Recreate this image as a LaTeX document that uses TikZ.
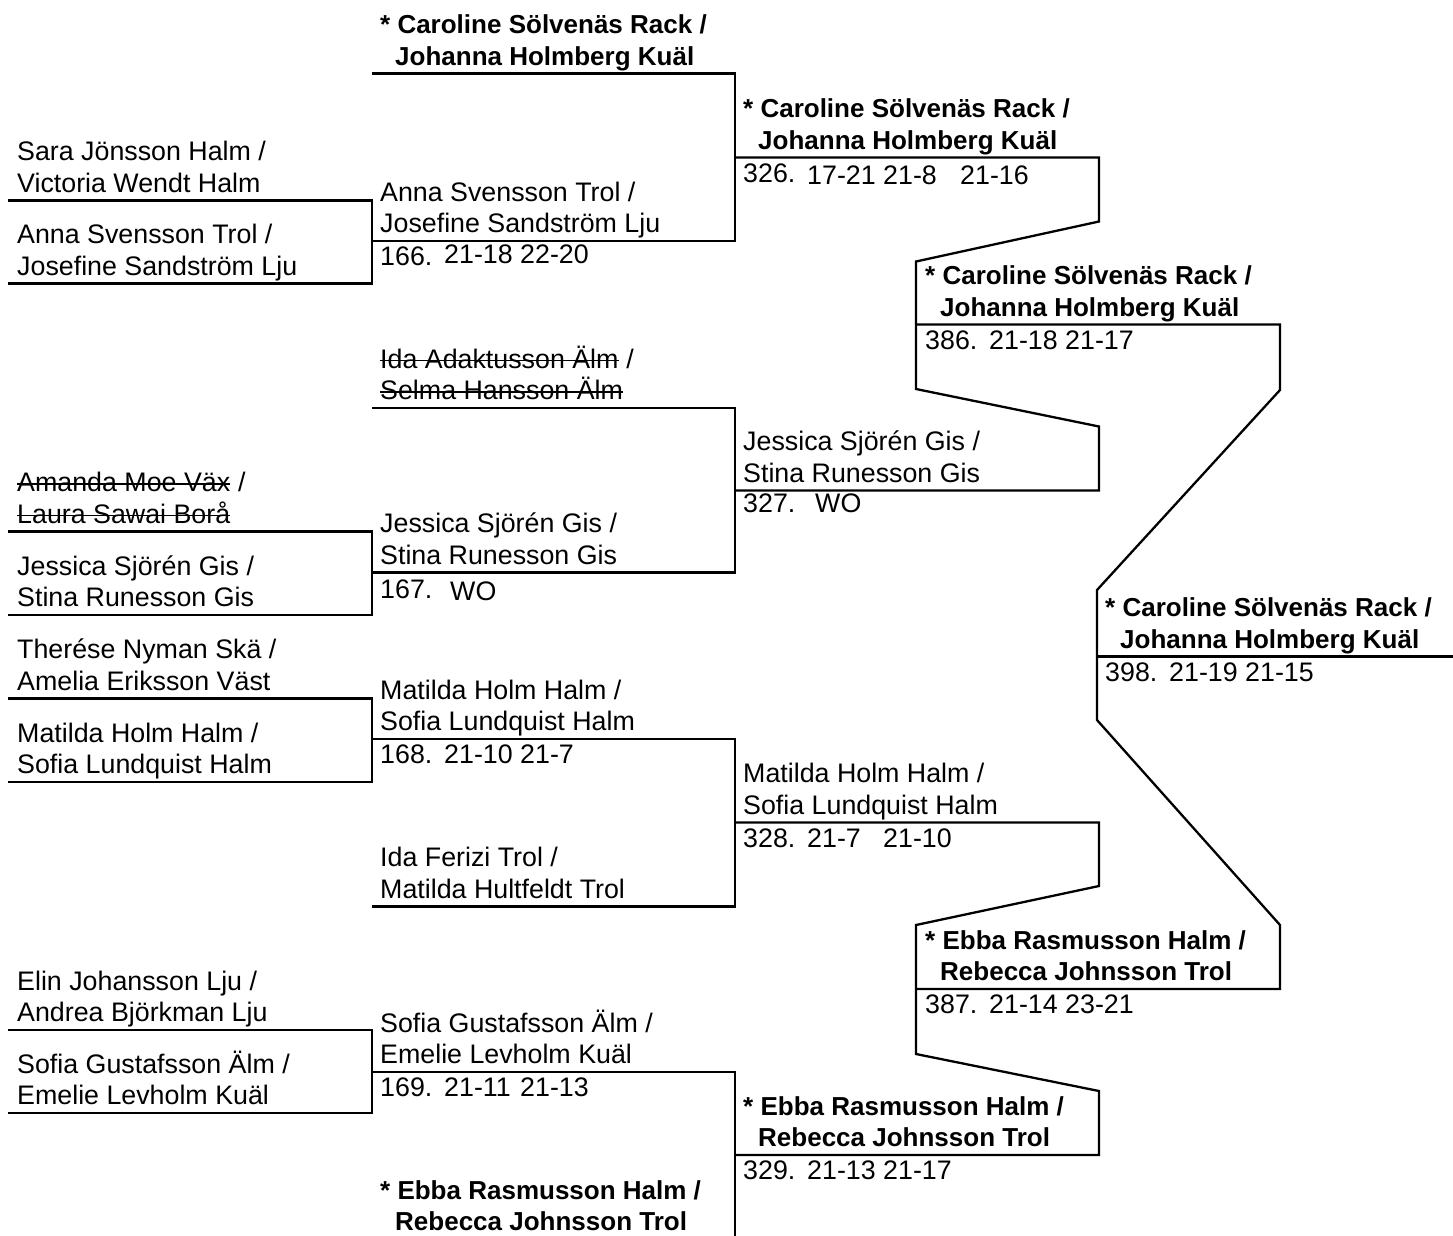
\documentclass[tikz,border=0pt]{standalone}
\usepackage{fontspec}
\setmainfont{Liberation Sans}
\tikzset{
  br/.style={line width=2.3pt, line join=miter},
  txt/.style={inner sep=0pt, anchor=base west, font=\fontsize{26.8}{31}\selectfont},
  btxt/.style={txt, font=\fontsize{26}{31}\selectfont\bfseries},
  strikeline/.style={line width=1.8pt}
}
% name, x, line y, first line, second line
\newcommand\pairtxt[5]{%
  \node[txt] (#1a) at (#2,#3-40) {#4};
  \node[txt] (#1b) at (#2,#3-8.5) {#5};}
\newcommand\boldpair[5]{%
  \node[btxt] (#1a) at (#2,#3-40) {* #4};
  \node[btxt] (#1b) at (#2+15,#3-8.5) {#5};}
% name, x, line y, number, game 1, game 2, score offset
\newcommand\scoreline[7]{%
  \node[txt] (#1n) at (#2,#3+24.5) {#4};
  \node[txt] (#1a) at (#2+64,#3+#7) {#5};
  \node[txt] (#1b) at (#2+140,#3+#7) {#6};}
\begin{document}
\begin{tikzpicture}[x=1pt,y=-1pt]
\useasboundingbox[fill=white] (0,0) rectangle (1453,1235);

% ---------- brackets ----------
% round 1
\draw[br] (8,200.5) -- (372,200.5) -- (372,283.5) -- (8,283.5);
\draw[br] (8,531.5) -- (372,531.5) -- (372,615) -- (8,615);
\draw[br] (8,698.5) -- (372,698.5) -- (372,782) -- (8,782);
\draw[br] (8,1030) -- (372,1030) -- (372,1113) -- (8,1113);
% round 2
\draw[br] (372,73.5) -- (735,73.5) -- (735,241) -- (372,241);
\draw[br] (372,408) -- (735,408) -- (735,572.5) -- (372,572.5);
\draw[br] (372,739) -- (735,739) -- (735,906.5) -- (372,906.5);
\draw[br] (372,1072) -- (735,1072) -- (735,1240) -- (372,1240);
% round 3 (with jogs)
\draw[br] (735,157.5) -- (1099,157.5) -- (1099,221.5) -- (916,261.5) -- (916,389) -- (1099,426.5) -- (1099,490.5) -- (735,490.5);
\draw[br] (735,822.5) -- (1099,822.5) -- (1099,886) -- (916,925) -- (916,1054) -- (1099,1091) -- (1099,1155) -- (735,1155);
% semifinals and final
\draw[br] (916,324.5) -- (1280,324.5) -- (1280,390) -- (1097,590) -- (1097,720) -- (1280,925) -- (1280,989) -- (916,989);
\draw[br] (1097,656.5) -- (1456,656.5);

% ---------- round 1 entries ----------
\pairtxt{r1a}{17}{200.5}{Sara Jönsson Halm /}{Victoria Wendt Halm}
\pairtxt{r1b}{17}{283.5}{Anna Svensson Trol /}{Josefine Sandström Lju}
\node[txt] (r1ca) at (17,491.5) {Amanda Moe Väx};
\node[txt] (r1cs) at (r1ca.base east) {~/};
\node[txt] (r1cb) at (17,523) {Laura Sawai Borå};
\draw[strikeline] ([yshift=7.5pt]r1ca.base west) -- ([yshift=7.5pt]r1ca.base east);
\draw[strikeline] ([yshift=7.5pt]r1cb.base west) -- ([yshift=7.5pt]r1cb.base east);
\pairtxt{r1d}{17}{615}{Jessica Sjörén Gis /}{Stina Runesson Gis}
\pairtxt{r1e}{17}{698.5}{Therése Nyman Skä /}{Amelia Eriksson Väst}
\pairtxt{r1f}{17}{782}{Matilda Holm Halm /}{Sofia Lundquist Halm}
\pairtxt{r1g}{17}{1030}{Elin Johansson Lju /}{Andrea Björkman Lju}
\pairtxt{r1h}{17}{1113}{Sofia Gustafsson Älm /}{Emelie Levholm Kuäl}

% ---------- round 2 entries ----------
\boldpair{r2a}{380}{73.5}{Caroline Sölvenäs Rack /}{Johanna Holmberg Kuäl}
\pairtxt{r2b}{380}{241}{Anna Svensson Trol /}{Josefine Sandström Lju}
\scoreline{m166}{380}{241}{166.}{21-18}{22-20}{22}
\node[txt] (r2ca) at (380,368) {Ida Adaktusson Älm};
\node[txt] (r2cs) at (r2ca.base east) {~/};
\node[txt] (r2cb) at (380,399.5) {Selma Hansson Älm};
\draw[strikeline] ([yshift=7.5pt]r2ca.base west) -- ([yshift=7.5pt]r2ca.base east);
\draw[strikeline] ([yshift=7.5pt]r2cb.base west) -- ([yshift=7.5pt]r2cb.base east);
\pairtxt{r2d}{380}{572.5}{Jessica Sjörén Gis /}{Stina Runesson Gis}
\node[txt] (m167n) at (380,598.5) {167.};
\node[txt] (m167w) at (450,600) {WO};
\pairtxt{r2e}{380}{739}{Matilda Holm Halm /}{Sofia Lundquist Halm}
\scoreline{m168}{380}{739}{168.}{21-10}{21-7}{24.5}
\pairtxt{r2f}{380}{906.5}{Ida Ferizi Trol /}{Matilda Hultfeldt Trol}
\pairtxt{r2g}{380}{1072}{Sofia Gustafsson Älm /}{Emelie Levholm Kuäl}
\scoreline{m169}{380}{1072}{169.}{21-11}{21-13}{24.5}
\boldpair{r2h}{380}{1239}{Ebba Rasmusson Halm /}{Rebecca Johnsson Trol}

% ---------- round 3 entries ----------
\boldpair{r3a}{743}{157.5}{Caroline Sölvenäs Rack /}{Johanna Holmberg Kuäl}
\scoreline{m326}{743}{157.5}{326.}{17-21}{21-8}{26.5}
\node[txt] (m326c) at (960,184) {21-16};
\pairtxt{r3b}{743}{490.5}{Jessica Sjörén Gis /}{Stina Runesson Gis}
\node[txt] (m327n) at (743,512) {327.};
\node[txt] (m327w) at (815,512) {WO};
\pairtxt{r3c}{743}{822.5}{Matilda Holm Halm /}{Sofia Lundquist Halm}
\scoreline{m328}{743}{822.5}{328.}{21-7}{21-10}{24.5}
\boldpair{r3d}{743}{1155}{Ebba Rasmusson Halm /}{Rebecca Johnsson Trol}
\scoreline{m329}{743}{1155}{329.}{21-13}{21-17}{24.5}

% ---------- semifinals ----------
\boldpair{r4a}{925}{324.5}{Caroline Sölvenäs Rack /}{Johanna Holmberg Kuäl}
\scoreline{m386}{925}{324.5}{386.}{21-18}{21-17}{24.5}
\boldpair{r4b}{925}{989}{Ebba Rasmusson Halm /}{Rebecca Johnsson Trol}
\scoreline{m387}{925}{989}{387.}{21-14}{23-21}{24.5}

% ---------- final ----------
\boldpair{r5a}{1105}{656.5}{Caroline Sölvenäs Rack /}{Johanna Holmberg Kuäl}
\scoreline{m398}{1105}{656.5}{398.}{21-19}{21-15}{24.5}
\end{tikzpicture}
\end{document}
